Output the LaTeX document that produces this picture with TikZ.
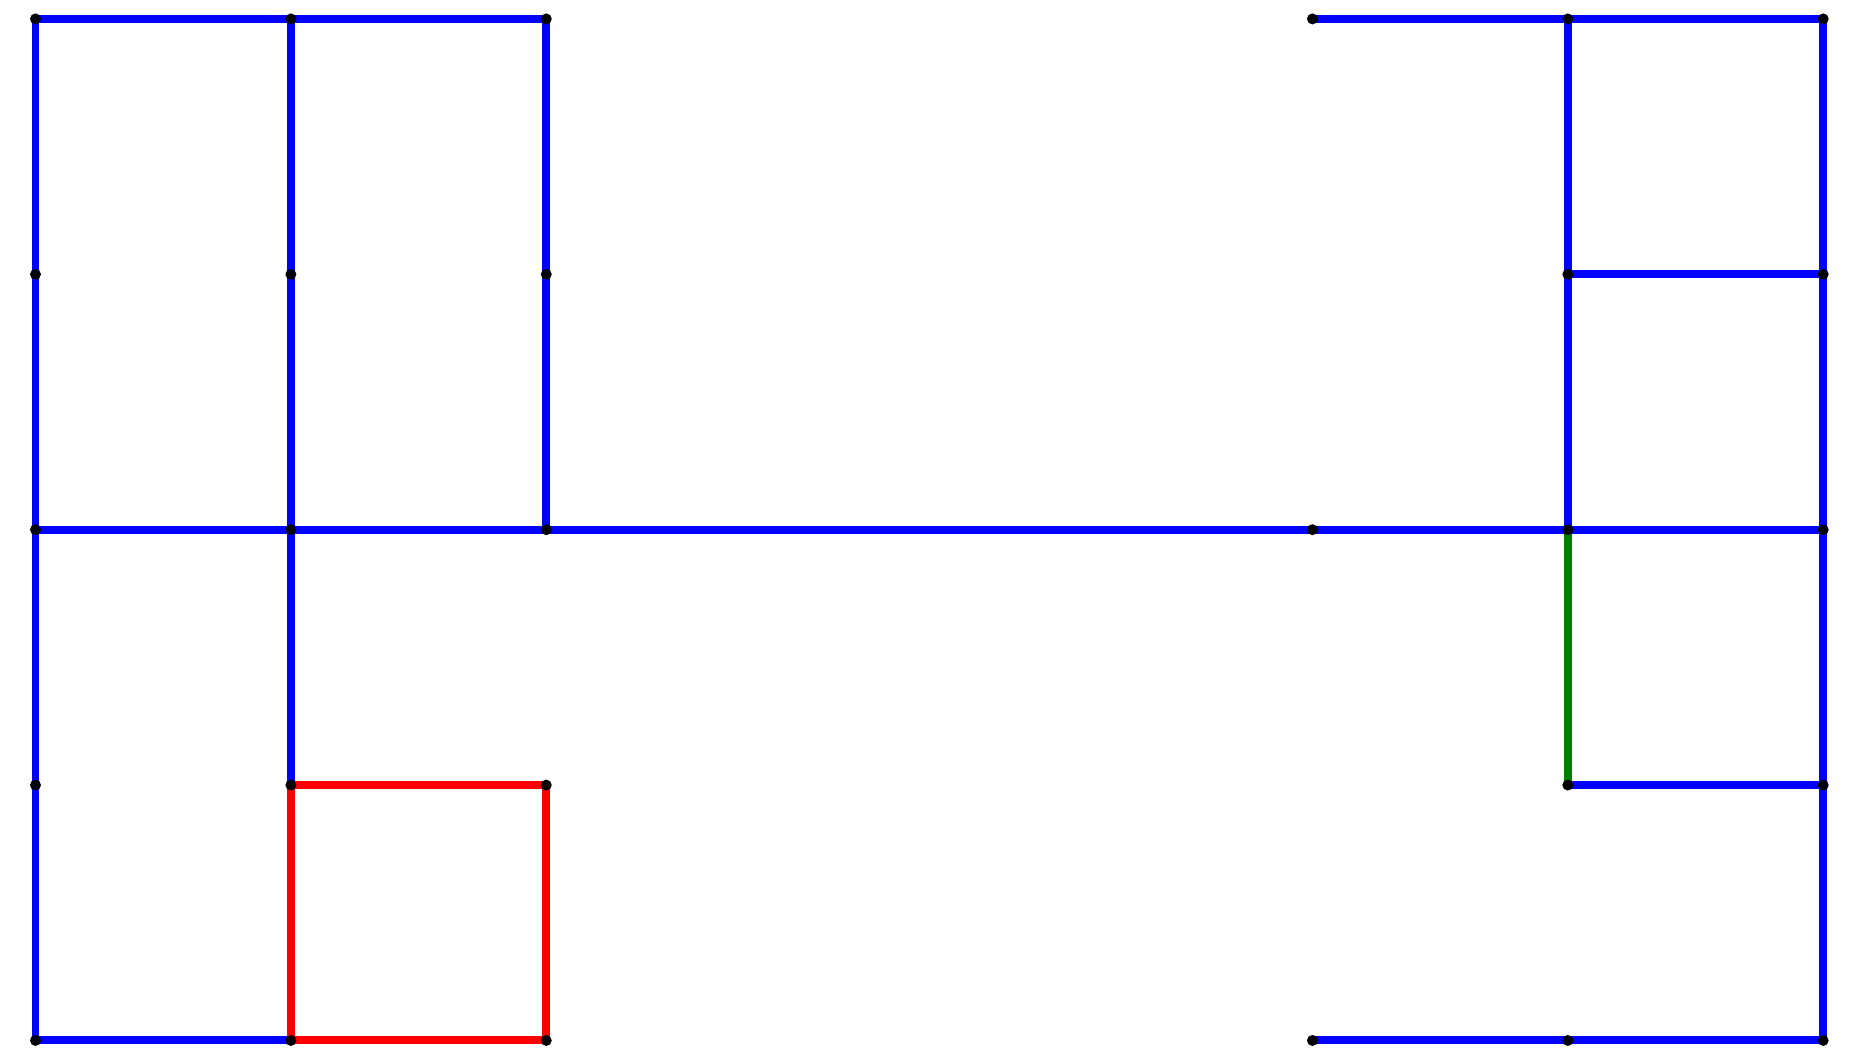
\documentclass[tikz,border=0pt]{standalone}
\usetikzlibrary{backgrounds}
\begin{document}
\begin{tikzpicture}[
  x=1cm, y=1cm,
  vtx/.style={circle, fill=black, inner sep=0pt, minimum size=0.043cm},
  edgeb/.style={draw=blue, line width=0.89pt},
  edger/.style={draw=red, line width=0.89pt},
  edgeg/.style={draw=green!50!black, line width=0.89pt}
]
\useasboundingbox (-0.139,-0.082) rectangle (7.144,4.074);

% left block: full 3x5 lattice of vertices
\foreach \i in {0,1,2}{
  \foreach \j in {0,1,2,3,4}{
    \node[vtx] (p\i\j) at (\i,\j) {};
  }
}
% right block vertices
\foreach \i/\j in {5/4,6/4,7/4,6/3,7/3,5/2,6/2,7/2,6/1,7/1,5/0,6/0,7/0}{
  \node[vtx] (p\i\j) at (\i,\j) {};
}

\begin{scope}[on background layer]
  % left block, blue
  \draw[edgeb] (p04.center) -- (p14.center) -- (p24.center);
  \draw[edgeb] (p04.center) -- (p00.center);
  \draw[edgeb] (p14.center) -- (p11.center);
  \draw[edgeb] (p24.center) -- (p22.center);
  \draw[edgeb] (p00.center) -- (p10.center);
  % long middle rail
  \draw[edgeb] (p02.center) -- (p12.center) -- (p22.center) -- (p52.center) -- (p62.center) -- (p72.center);
  % red square
  \draw[edger] (p11.center) -- (p21.center) -- (p20.center) -- (p10.center) -- cycle;
  % right block, blue
  \draw[edgeb] (p54.center) -- (p64.center) -- (p74.center);
  \draw[edgeb] (p64.center) -- (p62.center);
  \draw[edgeb] (p63.center) -- (p73.center);
  \draw[edgeb] (p74.center) -- (p70.center);
  \draw[edgeb] (p61.center) -- (p71.center);
  \draw[edgeb] (p50.center) -- (p60.center) -- (p70.center);
  % green segment
  \draw[edgeg] (p62.center) -- (p61.center);
\end{scope}
\end{tikzpicture}
\end{document}
